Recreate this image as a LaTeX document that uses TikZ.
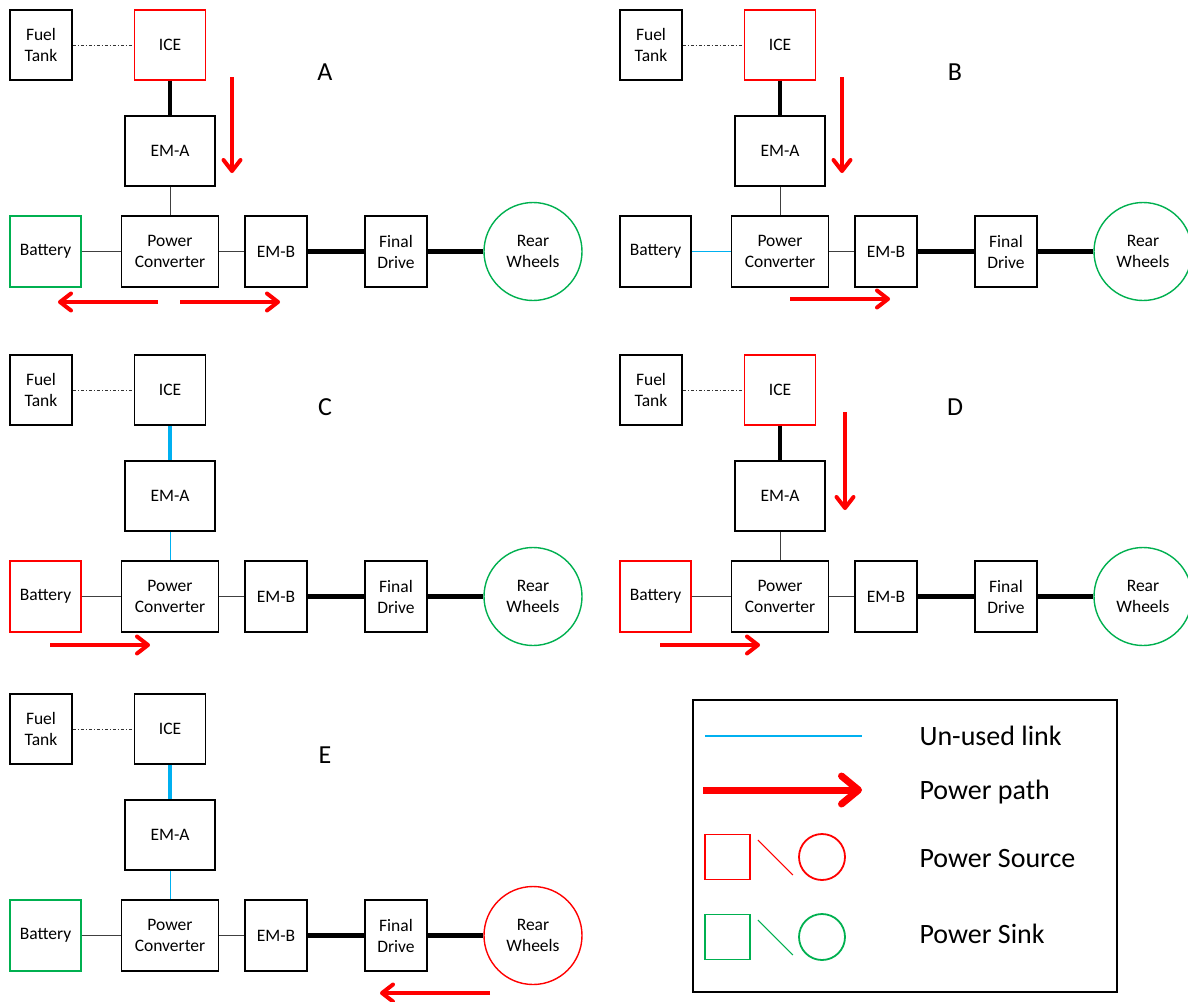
\documentclass[tikz,border=0pt]{standalone}
\usepackage{fontspec}
\setmainfont{Carlito}
\usetikzlibrary{arrows.meta}
\definecolor{lnkblue}{HTML}{00B0F0}
\definecolor{srcred}{HTML}{FF0000}
\definecolor{snkgreen}{HTML}{00B050}
\tikzset{
  blk/.style={draw=black, line width=1.7pt, minimum width=62pt, minimum height=70pt,
    align=center, inner sep=0pt, font=\fontsize{17.5}{21}\selectfont},
  whl/.style={circle, line width=1.7pt, minimum size=98pt, align=center, inner sep=0pt,
    font=\fontsize{17.5}{21}\selectfont},
  plain/.style={draw=black},
  src/.style={draw=srcred, line width=1.4pt},
  snk/.style={draw=snkgreen, line width=1.4pt},
  fuel/.style={draw=black!80, line width=0.8pt, dash pattern=on 3pt off 2pt on 1pt off 2pt},
  thinlnk/.style={draw=black!75, line width=1pt},
  thicklnk/.style={draw=black, line width=4.5pt},
  thinblue/.style={draw=lnkblue, line width=1pt},
  thickblue/.style={draw=lnkblue, line width=4.5pt},
  parr/.style={draw=srcred, line width=4pt, -{Straight Barb[length=11pt,width=17pt,round]}},
  lbl/.style={font=\fontsize{26}{30}\selectfont},
  legtxt/.style={anchor=base west, font=\fontsize{28}{32}\selectfont},
}
% #1 prefix, #2 dx, #3 dy, #4 ICE style, #5 battery style, #6 wheel style,
% #7 ICE-EMA link, #8 EMA-PC link, #9 battery-PC link
\newcommand\hevpanel[9]{%
\begin{scope}[shift={(#2,#3)}]
  \node[blk] (#1ft) at (41,45) {Fuel\\Tank};
  \node[blk,#4,minimum width=71pt] (#1ice) at (170,45) {ICE};
  \node[blk,minimum width=90pt] (#1ema) at (170,151) {EM-A};
  \node[blk,#5,minimum width=71pt,minimum height=71pt] (#1bat) at (45.5,251.5) {Battery};
  \node[blk,minimum width=97pt,minimum height=71pt] (#1pc) at (170,251.5) {Power\\Converter};
  \node[blk,minimum height=71pt] (#1emb) at (276,251.5) {EM-B};
  \node[blk,minimum height=71pt] (#1fd) at (396,251.5) {Final\\Drive};
  \node[whl,#6] (#1rw) at (533,251.5) {Rear\\Wheels};
  \draw[fuel] (#1ft) -- (#1ice);
  \draw[#7] (#1ice) -- (#1ema);
  \draw[#8] (#1ema) -- (#1pc);
  \draw[#9] (#1bat) -- (#1pc);
  \draw[thinlnk] (#1pc) -- (#1emb);
  \draw[thicklnk] (#1emb) -- (#1fd);
  \draw[thicklnk] (#1fd) -- (#1rw);
\end{scope}}
\begin{document}
\begin{tikzpicture}[x=1pt,y=-1pt]
\clip (0,0) rectangle (1188,1001);
\fill[white] (0,0) rectangle (1188,1001);

% Panel A
\hevpanel{a}{0}{0}{src}{snk}{snk}{thicklnk}{thinlnk}{thinlnk}
\node[lbl] (labA) at (325,72) {A};
\coordinate (a1s) at (232,77); \coordinate (a1e) at (232,173);
\coordinate (a2s) at (158,302); \coordinate (a2e) at (58,302);
\coordinate (a3s) at (180,302); \coordinate (a3e) at (280,302);
\draw[parr] (a1s) -- (a1e);
\draw[parr] (a2s) -- (a2e);
\draw[parr] (a3s) -- (a3e);

% Panel B
\hevpanel{b}{610}{0}{src}{plain}{snk}{thicklnk}{thinlnk}{thinblue}
\node[lbl] (labB) at (955,72) {B};
\coordinate (b1s) at (842,77); \coordinate (b1e) at (842,173);
\coordinate (b2s) at (790,299); \coordinate (b2e) at (890,299);
\draw[parr] (b1s) -- (b1e);
\draw[parr] (b2s) -- (b2e);

% Panel C
\hevpanel{c}{0}{345}{plain}{src}{snk}{thickblue}{thinblue}{thinlnk}
\node[lbl] (labC) at (325,407) {C};
\coordinate (c1s) at (50,645); \coordinate (c1e) at (150,645);
\draw[parr] (c1s) -- (c1e);

% Panel D
\hevpanel{d}{610}{345}{src}{src}{snk}{thicklnk}{thinlnk}{thinlnk}
\node[lbl] (labD) at (955,407) {D};
\coordinate (d1s) at (845,412); \coordinate (d1e) at (845,510);
\coordinate (d2s) at (660,645); \coordinate (d2e) at (760,645);
\draw[parr] (d1s) -- (d1e);
\draw[parr] (d2s) -- (d2e);

% Panel E
\hevpanel{e}{0}{684}{plain}{snk}{src}{thickblue}{thinblue}{thinlnk}
\node[lbl] (labE) at (325,755) {E};
\coordinate (e1s) at (490,993); \coordinate (e1e) at (380,993);
\draw[parr] (e1s) -- (e1e);

% Legend
\node[draw, line width=2pt, minimum width=424pt, minimum height=292pt, inner sep=0pt] (legend) at (905,846) {};
\coordinate (l1s) at (705,736); \coordinate (l1e) at (862,736);
\draw[draw=lnkblue, line width=1.5pt] (l1s) -- (l1e);
\coordinate (l2s) at (703,790); \coordinate (l2e) at (862,790);
\draw[draw=srcred, line width=7pt, -{Straight Barb[length=17pt,width=28pt,round]}] (l2s) -- (l2e);
\node[draw=srcred, line width=1.8pt, minimum size=45pt, inner sep=0pt] (lsq1) at (727.5,857) {};
\node[circle, draw=srcred, line width=1.8pt, minimum size=46pt, inner sep=0pt] (lci1) at (822,857) {};
\draw[srcred, line width=1pt] (lsq1.east) ++(7,-17) coordinate (ld1s) -- ++(35,35) coordinate (ld1e);
\node[draw=snkgreen, line width=1.8pt, minimum size=45pt, inner sep=0pt] (lsq2) at (727.5,937) {};
\node[circle, draw=snkgreen, line width=1.8pt, minimum size=46pt, inner sep=0pt] (lci2) at (822,937) {};
\draw[snkgreen, line width=1pt] (lsq2.east) ++(7,-17) coordinate (ld2s) -- ++(35,35) coordinate (ld2e);
\node[legtxt] (t1) at (916,745) {Un-used link};
\node[legtxt] (t2) at (916,799) {Power path};
\node[legtxt] (t3) at (916,867) {Power Source};
\node[legtxt] (t4) at (916,943) {Power Sink};
\end{tikzpicture}
\end{document}
